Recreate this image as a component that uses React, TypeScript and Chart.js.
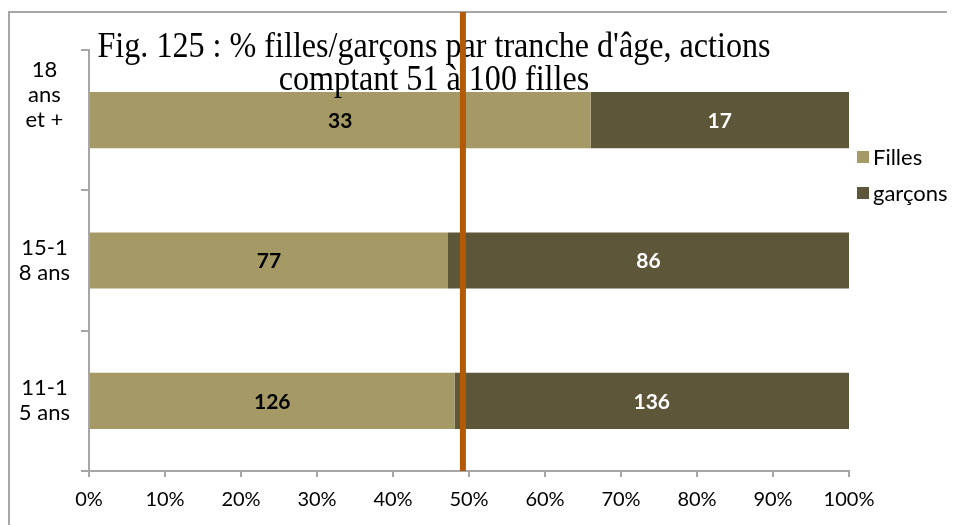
import React, { useEffect, useRef } from "react";
import { Chart, registerables } from "chart.js";

Chart.register(...registerables);

// ---- data ----
const categories = ["18 ans et +", "15-18 ans", "11-15 ans"];
const tickLabels = [["18", "ans", "et +", "", ""], ["15-1", "8 ans"], ["11-1", "5 ans"]];
const filles = [33, 77, 126];
const garcons = [17, 86, 136];
const seriesNames = ["Filles", "garçons"];
const xTicks = [0, 10, 20, 30, 40, 50, 60, 70, 80, 90, 100];
const referenceLine = 49.2; // % (orange vertical line)
const titleLines = ["Fig. 125 : % filles/garçons par tranche d'âge, actions", "comptant 51 à 100 filles"];

const COLOR_F = "#A59966";
const COLOR_G = "#5D5638";
const AXIS = "#A6A6A6";
const FONT = "Lato, 'Open Sans', sans-serif";

const pct = (a: number[], b: number[]) => a.map((v, i) => (v / (v + b[i])) * 100);

const CW = 947;
const CH = 517;

export default function App() {
  const ref = useRef<HTMLCanvasElement | null>(null);

  useEffect(() => {
    document.documentElement.style.overflow = "hidden";
    document.body.style.overflow = "hidden";
    const canvas = ref.current!;
    const counts = [filles, garcons];

    const framePlugin = {
      id: "frame",
      beforeDraw(chart: any) {
        const ctx = chart.ctx;
        ctx.save();
        ctx.fillStyle = AXIS;
        ctx.fillRect(0, 3, CW, 2);
        ctx.fillRect(0, 3, 2, CH);
        ctx.restore();
      },
    };

    const labelPlugin = {
      id: "segLabels",
      afterDatasetsDraw(chart: any) {
        const ctx = chart.ctx;
        ctx.save();
        ctx.font = `bold 21px ${FONT}`;
        ctx.textAlign = "center";
        ctx.textBaseline = "middle";
        chart.data.datasets.forEach((ds: any, di: number) => {
          const meta = chart.getDatasetMeta(di);
          meta.data.forEach((el: any, i: number) => {
            const cx = (el.x + el.base) / 2;
            ctx.fillStyle = di === 0 ? "#000000" : "#FFFFFF";
            ctx.fillText(String(counts[di][i]), cx, el.y + 1);
          });
        });
        ctx.restore();
      },
    };

    const overlayPlugin = {
      id: "overlay",
      afterDraw(chart: any) {
        const ctx = chart.ctx;
        const area = chart.chartArea;
        // title
        ctx.save();
        ctx.fillStyle = "#000";
        ctx.font = "35px 'Liberation Serif', 'DejaVu Serif', serif";
        ctx.textAlign = "center";
        ctx.textBaseline = "alphabetic";
        const w1 = ctx.measureText(titleLines[0]).width;
        const sx = 673 / w1;
        const cx = 426;
        const baselines = [49, 82];
        titleLines.forEach((t, i) => {
          ctx.save();
          ctx.translate(cx, baselines[i]);
          ctx.scale(sx, 1);
          ctx.fillText(t, 0, 0);
          ctx.restore();
        });
        ctx.restore();

        // reference line
        const xs = chart.scales.x;
        const lx = xs.getPixelForValue(referenceLine);
        ctx.save();
        ctx.strokeStyle = "#B25A05";
        ctx.lineWidth = 6;
        ctx.beginPath();
        ctx.moveTo(lx, 4);
        ctx.lineTo(lx, area.bottom);
        ctx.stroke();
        ctx.restore();

        // legend
        ctx.save();
        ctx.font = `22px ${FONT}`;
        ctx.textBaseline = "middle";
        ctx.textAlign = "left";
        const ly = [149, 185];
        [COLOR_F, COLOR_G].forEach((c, i) => {
          ctx.fillStyle = c;
          ctx.fillRect(849, ly[i] - 6, 12, 12);
          ctx.fillStyle = "#000";
          ctx.fillText(seriesNames[i], 865, ly[i] + 1);
        });
        ctx.restore();
      },
    };

    const chart = new Chart(canvas, {
      type: "bar",
      data: {
        labels: categories,
        datasets: [
          {
            label: seriesNames[0],
            data: pct(filles, garcons),
            backgroundColor: COLOR_F,
            barPercentage: 0.4,
            categoryPercentage: 1,
          },
          {
            label: seriesNames[1],
            data: pct(garcons, filles),
            backgroundColor: COLOR_G,
            barPercentage: 0.4,
            categoryPercentage: 1,
          },
        ],
      },
      options: {
        indexAxis: "y",
        animation: false,
        responsive: false,
        devicePixelRatio: 1,
        layout: { padding: { top: 42, right: 106, left: 0, bottom: 0 } },
        plugins: {
          legend: { display: false },
          tooltip: { enabled: false },
          title: { display: false },
        },
        scales: {
          x: {
            stacked: true,
            min: 0,
            max: 100,
            afterBuildTicks: (s: any) => {
              s.ticks = xTicks.map((v) => ({ value: v }));
            },
            afterFit: (s: any) => {
              s.height = CH - 463;
              s.paddingLeft = 0;
              s.paddingRight = 0;
            },
            border: { color: AXIS, width: 2 },
            grid: { drawOnChartArea: false, drawTicks: true, tickLength: 6, color: AXIS, lineWidth: 2 },
            ticks: {
              callback: (v: any) => `${v}%`,
              color: "#000",
              font: { family: FONT, size: 20 },
              padding: 11,
              maxRotation: 0,
              autoSkip: false,
            },
          },
          y: {
            stacked: true,
            afterFit: (s: any) => {
              s.width = 81;
              s.paddingTop = 0;
              s.paddingBottom = 0;
            },
            border: { color: AXIS, width: 2 },
            grid: { drawOnChartArea: false, drawTicks: true, tickLength: 8, color: AXIS, lineWidth: 2, offset: true },
            ticks: {
              callback: (_v: any, i: number) => tickLabels[i],
              color: "#000",
              font: { family: FONT, size: 22, lineHeight: "25px" },
              crossAlign: "center",
              padding: 11,
              autoSkip: false,
            },
          },
        },
      },
      plugins: [framePlugin, labelPlugin, overlayPlugin],
    } as any);

    return () => chart.destroy();
  }, []);

  return (
    <div style={{ position: "relative", width: CW, height: CH }}>
      <canvas ref={ref} width={CW} height={CH} style={{ display: "block", width: CW, height: CH }} />
    </div>
  );
}
